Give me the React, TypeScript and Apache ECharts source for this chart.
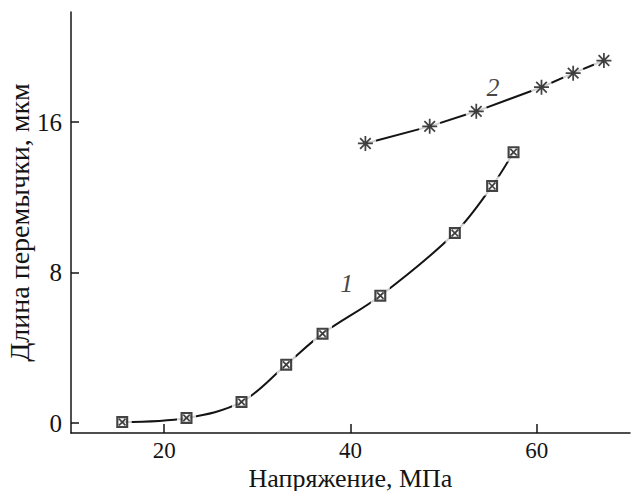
import React, { useEffect, useRef } from "react";
import * as echarts from "echarts";

const xTicks = [20, 40, 60];
const yTicks = [0, 8, 16];
const series1X = [15.5, 22.4, 28.3, 33.1, 37.0, 43.2, 51.2, 55.2, 57.5];
const series1Y = [0.05, 0.27, 1.12, 3.1, 4.75, 6.77, 10.1, 12.6, 14.4];
const series2X = [41.6, 48.5, 53.5, 60.5, 63.9, 67.2];
const series2Y = [14.86, 15.77, 16.57, 17.85, 18.6, 19.27];
const curveLabels = [
  { name: "1", x: 39.6, y: 7.44 },
  { name: "2", x: 55.3, y: 17.86 },
];
const xTitle = "Напряжение, МПа";
const yTitle = "Длина перемычки, мкм";

const BOX =
  "path://M0 0L10 0L10 10L0 10Z M1.8 1.8L1.8 8.2L8.2 8.2L8.2 1.8Z " +
  "M1.8 2.8L2.8 1.8L8.2 7.2L7.2 8.2Z M7.2 1.8L8.2 2.8L2.8 8.2L1.8 7.2Z";
const STAR =
  "path://M5.3 0L6.7 0L6.7 12L5.3 12Z M0 5.3L12 5.3L12 6.7L0 6.7Z " +
  "M2.25 1.26L10.74 9.75L9.75 10.74L1.26 2.25Z " +
  "M9.75 1.26L10.74 2.25L2.25 10.74L1.26 9.75Z M4.6 4.6L7.4 4.6L7.4 7.4L4.6 7.4Z";

const INK = "#141414";
const FONT = "Liberation Serif";

export default function App() {
  const ref = useRef<HTMLDivElement>(null);
  useEffect(() => {
    if (!ref.current) return;
    const chart = echarts.init(ref.current, undefined, { renderer: "svg" });
    const d1 = series1X.map((x, i) => [x, series1Y[i]]);
    const d2 = series2X.map((x, i) => [x, series2Y[i]]);
    chart.setOption({
      animation: false,
      backgroundColor: "#ffffff",
      grid: {
        left: 71,
        top: 12,
        right: 2,
        bottom: 58,
        containLabel: false,
        outerBoundsMode: "none",
      },
      xAxis: {
        type: "value",
        min: 10,
        max: 70,
        name: xTitle,
        nameLocation: "middle",
        nameGap: 45,
        nameMoveOverlap: false,
        nameTextStyle: {
          fontFamily: FONT,
          fontSize: 26,
          verticalAlign: "middle",
          color: INK,
        },
        axisLine: { show: true, onZero: false, lineStyle: { color: INK, width: 1.5 } },
        axisTick: { show: true, inside: true, length: 9, customValues: xTicks, lineStyle: { color: INK, width: 1.5 } },
        axisLabel: { customValues: xTicks, margin: 6, fontFamily: FONT, fontSize: 23, color: INK },
        splitLine: { show: false },
      },
      yAxis: {
        type: "value",
        min: -0.53,
        max: 21.85,
        name: yTitle,
        nameLocation: "middle",
        nameGap: 38,
        nameMoveOverlap: false,
        nameTextStyle: { fontFamily: FONT, fontSize: 28, color: INK },
        axisLine: { show: true, onZero: false, lineStyle: { color: INK, width: 1.5 } },
        axisTick: { show: true, inside: true, length: 8, customValues: yTicks, lineStyle: { color: INK, width: 1.5 } },
        axisLabel: { customValues: yTicks, margin: 9, fontFamily: FONT, fontSize: 25, color: INK },
        splitLine: { show: false },
      },
      series: [
        {
          type: "line",
          data: d1,
          smooth: 0.35,
          showSymbol: false,
          lineStyle: { color: INK, width: 2 },
          z: 2,
        },
        {
          type: "line",
          data: d2,
          showSymbol: false,
          lineStyle: { color: INK, width: 2 },
          z: 2,
        },
        {
          type: "scatter",
          data: d1,
          symbol: "rect",
          symbolSize: 19,
          itemStyle: { color: "#ffffff" },
          z: 3,
          silent: true,
        },
        {
          type: "scatter",
          data: d2,
          symbol: "circle",
          symbolSize: 22,
          itemStyle: { color: "#ffffff" },
          z: 3,
          silent: true,
        },
        {
          type: "scatter",
          data: d1,
          symbol: BOX,
          symbolSize: 12,
          itemStyle: { color: INK },
          z: 4,
        },
        {
          type: "scatter",
          data: d2,
          symbol: STAR,
          symbolSize: 15,
          itemStyle: { color: INK },
          z: 4,
        },
        {
          type: "scatter",
          data: curveLabels.map((c) => ({ name: c.name, value: [c.x, c.y] })),
          symbolSize: 0,
          label: {
            show: true,
            position: "inside",
            formatter: "{b}",
            fontFamily: FONT,
            fontStyle: "italic",
            fontSize: 26,
            color: INK,
          },
          z: 5,
        },
      ],
    });
    return () => chart.dispose();
  }, []);
  return (
    <div
      ref={ref}
      style={{ position: "absolute", left: 0, top: 0, width: 632, height: 491 }}
    />
  );
}
